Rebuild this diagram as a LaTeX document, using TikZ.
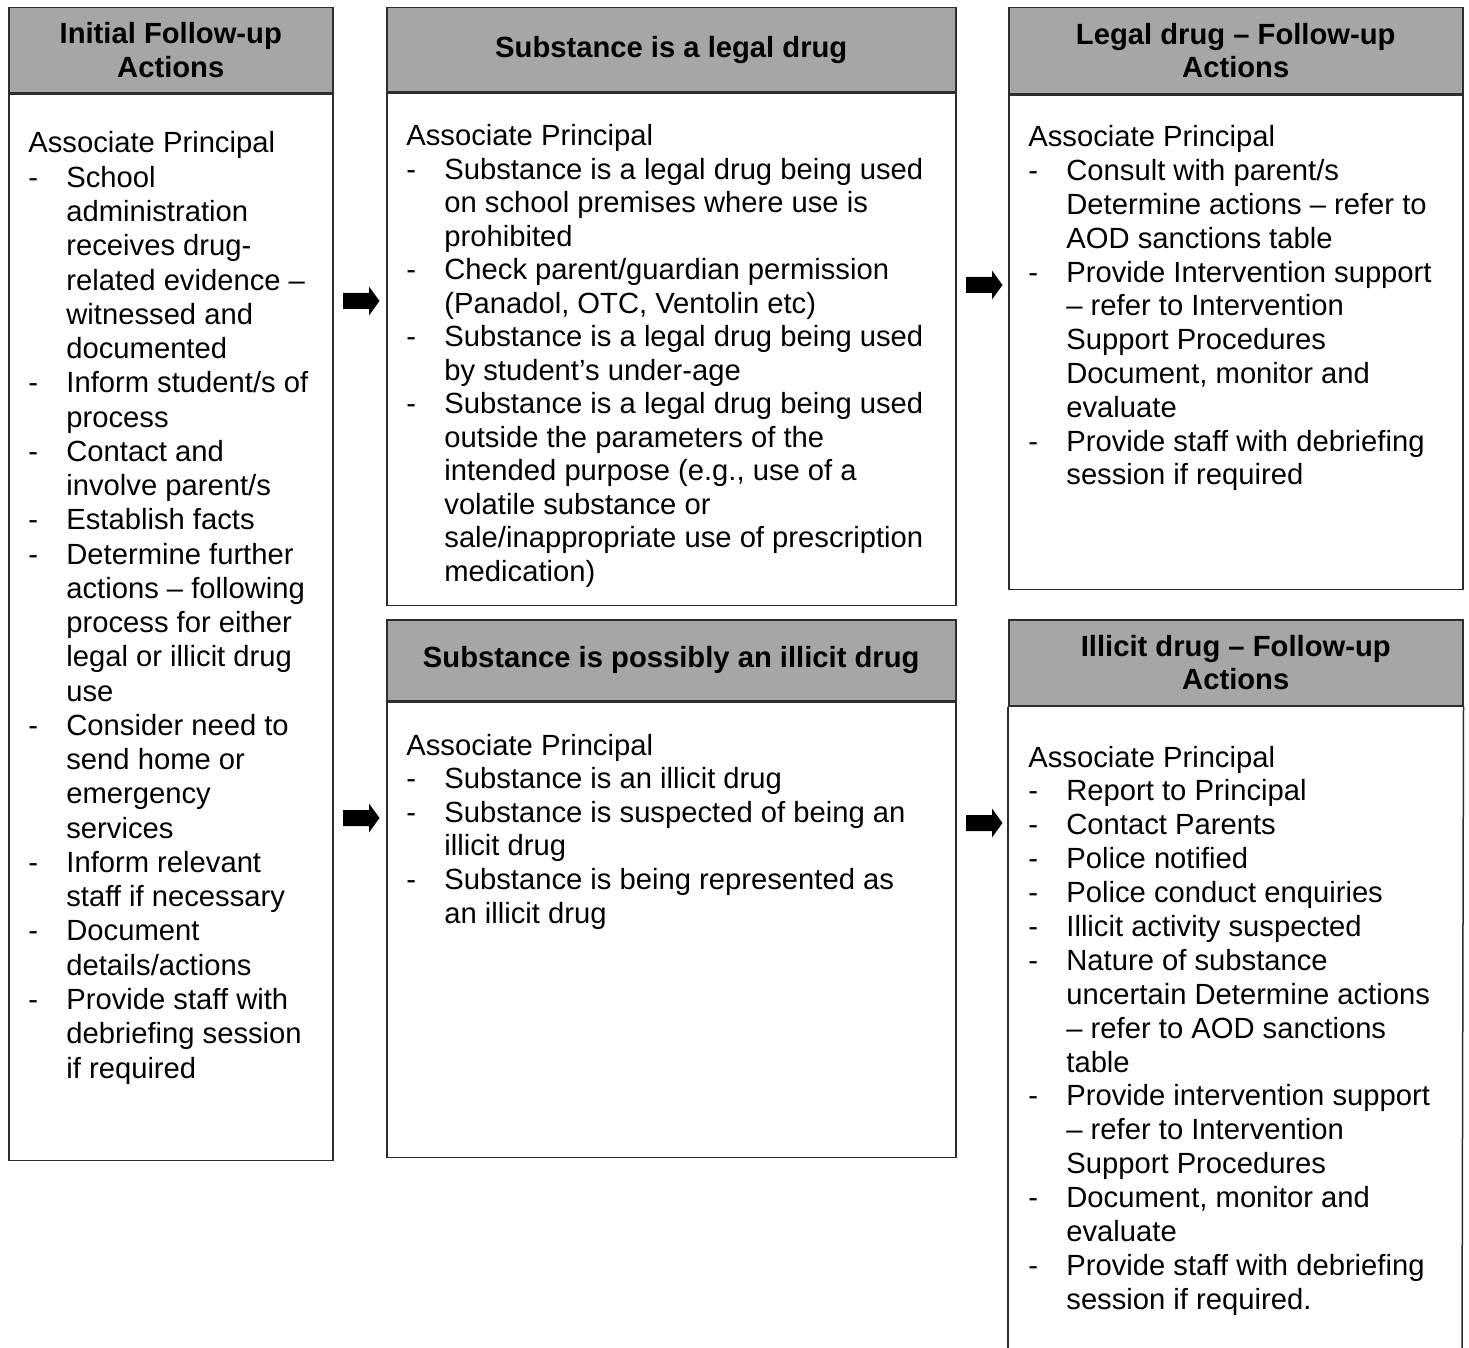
\documentclass[tikz,border=0pt]{standalone}
\usepackage{fontspec}
\setmainfont{Liberation Sans}
\usepackage{array}
\definecolor{hdrgray}{RGB}{166,166,166}
\definecolor{edgecol}{RGB}{45,45,45}
\newcommand{\bodyfont}[1]{\fontsize{14.6pt}{#1}\selectfont}
\newcommand{\AP}{\multicolumn{2}{@{}l@{}}{Associate Principal}}
\begin{document}
\begin{tikzpicture}[x=0.5pt,y=-0.5pt,
  hdr/.style={draw=edgecol, line width=0.75pt, fill=hdrgray, anchor=north west, inner sep=0pt, align=center, font={\bfseries\fontsize{14.6pt}{16.75pt}\selectfont}},
  bodybox/.style={draw=edgecol, line width=0.75pt, fill=white, anchor=north west, inner sep=0pt},
  edgeline/.style={draw=edgecol, line width=0.75pt},
  txt/.style={anchor=base west, inner sep=0pt},
  blockarr/.pic={\fill[black] (-18,-8) -- (8,-8) -- (8,-14.5) -- (18.5,0) -- (8,14.5) -- (8,8) -- (-18,8) -- cycle;}]
\useasboundingbox (0,0) rectangle (1469,1348);

% ---- Box A: Initial Follow-up Actions
\node[hdr, minimum width=162pt, minimum height=42.5pt] (hA) at (8,7) {Initial Follow-up\\Actions};
\node[bodybox, minimum width=162pt, minimum height=533pt] (bA) at (hA.south west) {};
\node[txt] (tA) at (28,153) {\bodyfont{17.13pt}\begin{tabular}[t]{@{}w{l}{19pt}@{}l@{}}
\AP\\
-&School\\
&administration\\
&receives drug-\\
&related evidence –\\
&witnessed and\\
&documented\\
-&Inform student/s of\\
&process\\
-&Contact and\\
&involve parent/s\\
-&Establish facts\\
-&Determine further\\
&actions – following\\
&process for either\\
&legal or illicit drug\\
&use\\
-&Consider need to\\
&send home or\\
&emergency\\
&services\\
-&Inform relevant\\
&staff if necessary\\
-&Document\\
&details/actions\\
-&Provide staff with\\
&debriefing session\\
&if required
\end{tabular}};

% ---- Box B: Substance is a legal drug
\node[hdr, minimum width=284.5pt, minimum height=42pt] (hB) at (386,7) {Substance is a legal drug};
\node[bodybox, minimum width=284.5pt, minimum height=256pt] (bB) at (hB.south west) {};
\node[txt] (tB) at (406,146) {\bodyfont{16.75pt}\begin{tabular}[t]{@{}w{l}{19pt}@{}l@{}}
\AP\\
-&Substance is a legal drug being used\\
&on school premises where use is\\
&prohibited\\
-&Check parent/guardian permission\\
&(Panadol, OTC, Ventolin etc)\\
-&Substance is a legal drug being used\\
&by student’s under-age\\
-&Substance is a legal drug being used\\
&outside the parameters of the\\
&intended purpose (e.g., use of a\\
&volatile substance or\\
&sale/inappropriate use of prescription\\
&medication)
\end{tabular}};

% ---- Box C: Substance is possibly an illicit drug
\node[hdr, minimum width=284.5pt, minimum height=40.5pt] (hC) at (386,619) {Substance is possibly an illicit drug};
\node[bodybox, minimum width=284.5pt, minimum height=227.5pt] (bC) at (hC.south west) {};
\node[txt] (tC) at (406,755) {\bodyfont{16.8pt}\begin{tabular}[t]{@{}w{l}{19pt}@{}l@{}}
\AP\\
-&Substance is an illicit drug\\
-&Substance is suspected of being an\\
&illicit drug\\
-&Substance is being represented as\\
&an illicit drug
\end{tabular}};

% ---- Box D: Legal drug - Follow-up Actions
\node[hdr, minimum width=227pt, minimum height=43pt] (hD) at (1008,7) {Legal drug – Follow-up\\Actions};
\node[bodybox, minimum width=227pt, minimum height=247pt] (bD) at (hD.south west) {};
\node[txt] (tD) at (1028,147) {\bodyfont{16.9pt}\begin{tabular}[t]{@{}w{l}{19pt}@{}l@{}}
\AP\\
-&Consult with parent/s\\
&Determine actions – refer to\\
&AOD sanctions table\\
-&Provide Intervention support\\
&– refer to Intervention\\
&Support Procedures\\
&Document, monitor and\\
&evaluate\\
-&Provide staff with debriefing\\
&session if required
\end{tabular}};

% ---- Box E: Illicit drug - Follow-up Actions (open at the bottom)
\node[hdr, minimum width=227pt, minimum height=43pt] (hE) at (1008,619) {Illicit drug – Follow-up\\Actions};
\coordinate (eBL) at (1008,1348);
\coordinate (eBR) at (1462,1348);
\draw[edgeline] (hE.south west) -- (eBL);
\draw[edgeline] (hE.south east) -- (eBR);
\node[txt] (tE) at (1028,767) {\bodyfont{16.95pt}\begin{tabular}[t]{@{}w{l}{19pt}@{}l@{}}
\AP\\
-&Report to Principal\\
-&Contact Parents\\
-&Police notified\\
-&Police conduct enquiries\\
-&Illicit activity suspected\\
-&Nature of substance\\
&uncertain Determine actions\\
&– refer to AOD sanctions\\
&table\\
-&Provide intervention support\\
&– refer to Intervention\\
&Support Procedures\\
-&Document, monitor and\\
&evaluate\\
-&Provide staff with debriefing\\
&session if required.
\end{tabular}};

% ---- block arrows
\pic (arAB) at (361,301) {blockarr};
\pic (arAC) at (361,818) {blockarr};
\pic (arBD) at (984,285) {blockarr};
\pic (arCE) at (984,823) {blockarr};
\end{tikzpicture}
\end{document}
